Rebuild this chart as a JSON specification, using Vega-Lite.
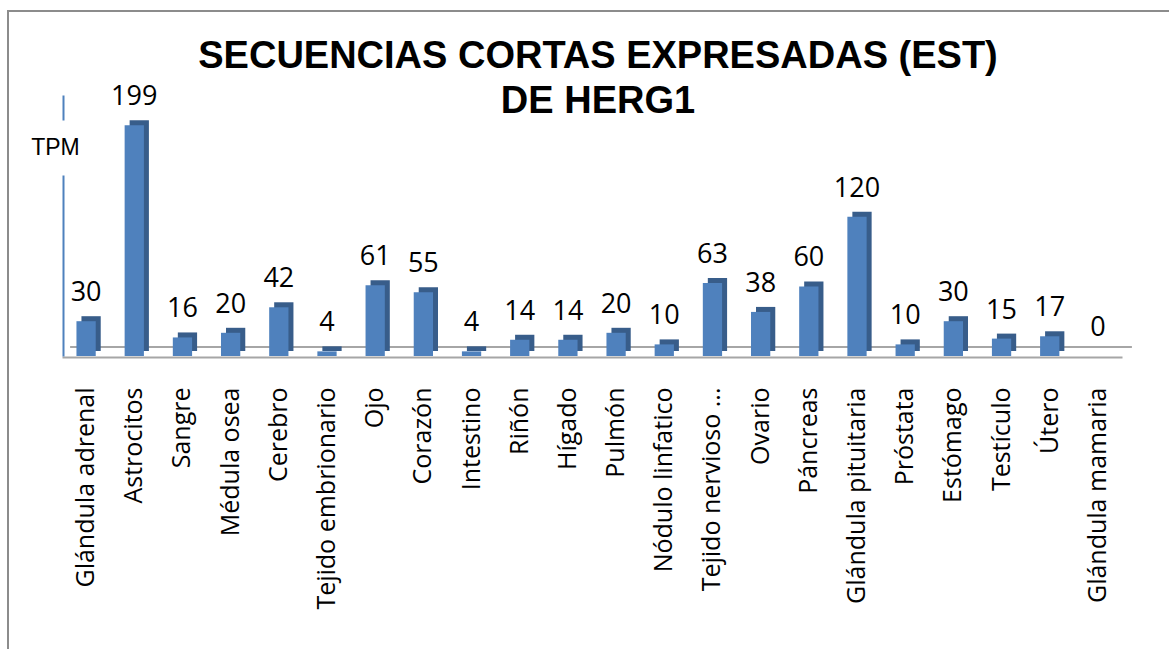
{
  "$schema": "https://vega.github.io/schema/vega-lite/v6.json",
  "width": 1180,
  "height": 650,
  "autosize": {"type": "none"},
  "padding": {"left": 8, "top": 11, "right": 0, "bottom": 0},
  "background": "white",
  "config": {"view": {"stroke": "#8C8C8C", "strokeWidth": 2}},
  "title": {
    "text": ["SECUENCIAS CORTAS EXPRESADAS (EST)", "DE HERG1"],
    "font": "Liberation Sans",
    "fontSize": 38,
    "fontWeight": "bold",
    "color": "black",
    "anchor": "middle",
    "frame": "group",
    "offset": -110,
    "lineHeight": 45
  },
  "data": {
    "values": [
      {"tejido": "Glándula adrenal", "tpm": 30},
      {"tejido": "Astrocitos", "tpm": 199},
      {"tejido": "Sangre", "tpm": 16},
      {"tejido": "Médula osea", "tpm": 20},
      {"tejido": "Cerebro", "tpm": 42},
      {"tejido": "Tejido embrionario", "tpm": 4},
      {"tejido": "Ojo", "tpm": 61},
      {"tejido": "Corazón", "tpm": 55},
      {"tejido": "Intestino", "tpm": 4},
      {"tejido": "Riñón", "tpm": 14},
      {"tejido": "Hígado", "tpm": 14},
      {"tejido": "Pulmón", "tpm": 20},
      {"tejido": "Nódulo linfatico", "tpm": 10},
      {"tejido": "Tejido nervioso ...", "tpm": 63},
      {"tejido": "Ovario", "tpm": 38},
      {"tejido": "Páncreas", "tpm": 60},
      {"tejido": "Glándula pituitaria", "tpm": 120},
      {"tejido": "Próstata", "tpm": 10},
      {"tejido": "Estómago", "tpm": 30},
      {"tejido": "Testículo", "tpm": 15},
      {"tejido": "Útero", "tpm": 17},
      {"tejido": "Glándula mamaria", "tpm": 0}
    ]
  },
  "encoding": {
    "x": {
      "field": "tejido",
      "type": "nominal",
      "sort": null,
      "scale": {
        "domain": ["Glándula adrenal", "Astrocitos", "Sangre", "Médula osea", "Cerebro", "Tejido embrionario", "Ojo", "Corazón", "Intestino", "Riñón", "Hígado", "Pulmón", "Nódulo linfatico", "Tejido nervioso ...", "Ovario", "Páncreas", "Glándula pituitaria", "Próstata", "Estómago", "Testículo", "Útero", "Glándula mamaria"],
        "range": [54, 1114],
        "paddingInner": 0.6,
        "paddingOuter": 0.3
      },
      "axis": {
        "title": null,
        "orient": "bottom",
        "offset": -304,
        "domainColor": "#A6A6A6",
        "domainWidth": 2,
        "ticks": false,
        "grid": false,
        "labelAngle": -90,
        "labelAlign": "right",
        "labelBaseline": "middle",
        "labelPadding": 30,
        "labelFont": "Open Sans",
        "labelFontSize": 25,
        "labelColor": "black",
        "labelLimit": 400,
        "labelOverlap": false
      }
    },
    "y": {
      "field": "tpm",
      "type": "quantitative",
      "scale": {"domain": [0, 225], "range": [345, 84], "nice": false},
      "axis": {
        "orient": "left",
        "offset": -55,
        "domainColor": "#4F81BD",
        "domainWidth": 2,
        "domainDash": [181, 55, 100],
        "ticks": false,
        "labels": false,
        "grid": false,
        "title": "TPM",
        "titleAngle": 0,
        "titleX": -8,
        "titleY": 136,
        "titleAlign": "center",
        "titleBaseline": "middle",
        "titleFont": "Liberation Sans",
        "titleFontSize": 23,
        "titleFontWeight": "normal",
        "titleColor": "black"
      }
    }
  },
  "layer": [
    {
      "data": {"values": [{"a": "Glándula adrenal", "b": "Glándula mamaria", "v": 0}]},
      "mark": {"type": "rule", "color": "#A6A6A6", "strokeWidth": 2, "xOffset": -16, "x2Offset": 34, "yOffset": -9},
      "encoding": {
        "x": {"field": "a", "type": "nominal"},
        "x2": {"field": "b"},
        "y": {"field": "v", "type": "quantitative"}
      }
    },
    {
      "mark": {"type": "bar", "color": "#385D8A", "xOffset": 5, "yOffset": -5}
    },
    {
      "mark": {"type": "bar", "color": "#4F81BD"}
    },
    {
      "mark": {"type": "text", "font": "Open Sans", "fontSize": 27, "dy": -20, "baseline": "alphabetic", "color": "black"},
      "encoding": {"text": {"field": "tpm", "type": "quantitative"}}
    }
  ]
}
